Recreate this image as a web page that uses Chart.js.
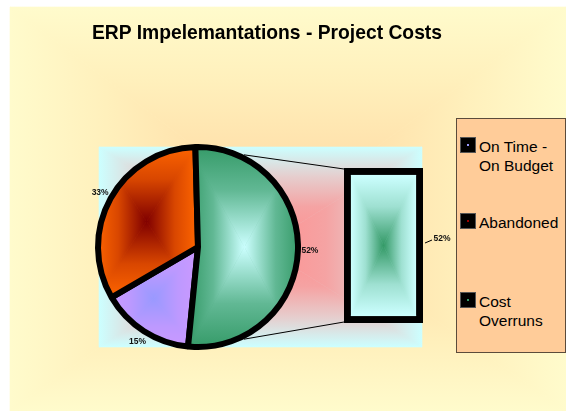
<!DOCTYPE html>
<html><head><meta charset="utf-8">
<script src="https://cdn.jsdelivr.net/npm/chart.js@4.4.1/dist/chart.umd.min.js"></script>
<style>
html,body{margin:0;padding:0;background:#fff;}
#wrap{position:relative;width:566px;height:411px;overflow:hidden;font-family:'Liberation Sans',Arial,sans-serif;}
canvas{position:absolute;left:0;top:0;}
#title{position:absolute;left:0;width:534px;top:23px;text-align:center;font-weight:bold;font-size:19.3px;line-height:19px;color:#000;white-space:nowrap;}
#legend{position:absolute;left:456px;top:118px;width:110px;height:235px;box-sizing:border-box;background:#FFCC99;border:1px solid #5b4b3b;}
.item{position:absolute;left:0;width:108px;}
.key{position:absolute;left:3px;top:0;width:16px;height:16px;background:#000;box-sizing:border-box;border:1px solid #555;}
.dot{position:absolute;left:6px;top:6px;width:2px;height:2px;}
.txt{position:absolute;left:22px;font-size:15.5px;line-height:19px;color:#000;white-space:nowrap;}
</style></head>
<body>
<div id="wrap">
<canvas id="pie" width="566" height="411"></canvas>
<canvas id="bar" width="566" height="411"></canvas>
<div id="title">ERP Impelemantations - Project Costs</div>
<div id="legend"></div>
</div>
<script>
// ---- data ----
const categories = ['On Time - On Budget', 'Abandoned', 'Cost Overruns'];
const pieValues = [15, 33, 52];
const barLabels = ['Cost Overruns'];
const barValues = [52];
const legendLines = [['On Time -', 'On Budget'], ['Abandoned'], ['Cost', 'Overruns']];

// ---- styles ----
const sliceCenterColors = ['#9999FF', '#800000', '#CCFFFF'];
const sliceEdgeColors = ['#CC99FF', '#FF6600', '#339966'];
const legendDotColors = ['#9999FF', '#990000', '#339966'];
const barCenterColor = '#339966', barEdgeColor = '#CCFFFF';
const ROTATION = 185.7;
const PIE_BORDER = 6, BAR_BORDER = 7;
const W = 566, H = 411;
const pieTotal = pieValues.reduce((a, b) => a + b, 0);

function mix(c1, c2, t) {
  const a = [1, 3, 5].map(k => parseInt(c1.substr(k, 2), 16));
  const b = [1, 3, 5].map(k => parseInt(c2.substr(k, 2), 16));
  return 'rgb(' + a.map((v, k) => Math.round(v + (b[k] - v) * t)).join(',') + ')';
}

// stops: array of [offset from edge (0) to centre (1), colour]
function rectGrad(ctx, x0, y0, x1, y1, cx, cy, stops) {
  ctx.save();
  ctx.fillStyle = stops[0][1];
  ctx.fillRect(x0, y0, x1 - x0, y1 - y0);
  const parts = [
    {p: [[x0, y0], [x1, y0]], g: [cx, y0, cx, cy]},
    {p: [[x1, y0], [x1, y1]], g: [x1, cy, cx, cy]},
    {p: [[x1, y1], [x0, y1]], g: [cx, y1, cx, cy]},
    {p: [[x0, y1], [x0, y0]], g: [x0, cy, cx, cy]}
  ];
  for (const part of parts) {
    const g = ctx.createLinearGradient(...part.g);
    stops.forEach(s => g.addColorStop(s[0], s[1]));
    ctx.beginPath();
    ctx.moveTo(part.p[0][0], part.p[0][1]);
    ctx.lineTo(part.p[1][0], part.p[1][1]);
    ctx.lineTo(cx, cy);
    ctx.closePath();
    ctx.fillStyle = g;
    ctx.fill();
    ctx.strokeStyle = g;
    ctx.lineWidth = 0.6;
    ctx.stroke();
  }
  ctx.restore();
}

const patCache = {};
function makePattern(mainCtx, x0, y0, x1, y1, inner, outer) {
  const key = [x0, y0, x1, y1, inner, outer].map(v => typeof v === 'number' ? v.toFixed(1) : v).join('|');
  if (patCache[key]) return patCache[key];
  const off = document.createElement('canvas');
  off.width = W; off.height = H;
  const oc = off.getContext('2d');
  rectGrad(oc, x0, y0, x1, y1, (x0 + x1) / 2, (y0 + y1) / 2,
    [[0, outer], [0.45, mix(outer, inner, 0.3)], [1, inner]]);
  const pat = mainCtx.createPattern(off, 'no-repeat');
  patCache[key] = pat;
  return pat;
}

function sliceFill(c) {
  const chart = c.chart, a = chart.chartArea, i = c.dataIndex;
  if (!a || i === undefined) return sliceEdgeColors[i] || '#000';
  const cx = (a.left + a.right) / 2, cy = (a.top + a.bottom) / 2;
  const r = Math.min(a.right - a.left, a.bottom - a.top) / 2;
  const data = c.dataset.data;
  const total = data.reduce((s, v) => s + v, 0);
  let s = -Math.PI / 2 + ROTATION * Math.PI / 180;
  for (let k = 0; k < i; k++) s += data[k] / total * 2 * Math.PI;
  const e = s + data[i] / total * 2 * Math.PI;
  const pts = [[cx, cy], [cx + r * Math.cos(s), cy + r * Math.sin(s)], [cx + r * Math.cos(e), cy + r * Math.sin(e)]];
  const q = Math.PI / 2;
  for (let k = Math.ceil(s / q); k <= Math.floor(e / q); k++) {
    pts.push([cx + r * Math.cos(k * q), cy + r * Math.sin(k * q)]);
  }
  const xs = pts.map(p => p[0]), ys = pts.map(p => p[1]);
  return makePattern(chart.ctx, Math.min(...xs), Math.min(...ys), Math.max(...xs), Math.max(...ys),
    sliceCenterColors[i], sliceEdgeColors[i]);
}

function barFill(c) {
  const chart = c.chart, a = chart.chartArea;
  if (!a) return barCenterColor;
  return makePattern(chart.ctx, a.left + BAR_BORDER, a.top + BAR_BORDER, a.right - BAR_BORDER, a.bottom - BAR_BORDER,
    barCenterColor, barEdgeColor);
}

const backgroundPlugin = {
  id: 'bgPlugin',
  beforeDraw(chart) {
    const ctx = chart.ctx;
    // chart area background
    rectGrad(ctx, 10, 7, W, H, 285, 215, [[0, '#FFFBCC'], [0.35, '#FFF0BC'], [1, '#FFD59E']]);
    // plot area
    rectGrad(ctx, 99, 147, 422, 347, 262, 247, [[0, '#CCFFFF'], [0.3, '#E6CDCD'], [0.6, '#F5A3A3'], [1, '#FF9090']]);
  }
};

const pieLabelPlugin = {
  id: 'pieLabels',
  afterDatasetsDraw(chart) {
    const ctx = chart.ctx;
    const meta = chart.getDatasetMeta(0);
    const data = chart.data.datasets[0].data;
    const total = data.reduce((s, v) => s + v, 0);
    ctx.save();
    ctx.font = "bold 8.5px 'Liberation Sans', Arial, sans-serif";
    ctx.fillStyle = '#111';
    ctx.textAlign = 'center';
    ctx.textBaseline = 'middle';
    meta.data.forEach((arc, i) => {
      const p = arc.getProps(['x', 'y', 'startAngle', 'endAngle', 'outerRadius'], true);
      const mid = (p.startAngle + p.endAngle) / 2;
      const R = p.outerRadius + 12;
      ctx.fillText(Math.round(data[i] / total * 100) + '%', p.x + R * Math.cos(mid), p.y + R * Math.sin(mid));
    });
    ctx.restore();
  }
};

const pieChart = new Chart(document.getElementById('pie'), {
  type: 'pie',
  data: {
    labels: categories,
    datasets: [{
      data: pieValues,
      backgroundColor: sliceFill,
      borderColor: '#000',
      borderWidth: PIE_BORDER,
      hoverOffset: 0,
      offset: 0
    }]
  },
  options: {
    responsive: false,
    animation: false,
    events: [],
    rotation: ROTATION,
    layout: {padding: {left: 95, top: 144, right: 265, bottom: 61}},
    plugins: {legend: {display: false}, tooltip: {enabled: false}, title: {display: false}}
  },
  plugins: [backgroundPlugin, pieLabelPlugin]
});

const barExtrasPlugin = {
  id: 'barExtras',
  afterDatasetsDraw(chart) {
    const ctx = chart.ctx;
    const bar = chart.getDatasetMeta(0).data[0];
    const b = bar.getProps(['x', 'y', 'base', 'width'], true);
    const left = b.x - b.width / 2, right = b.x + b.width / 2;
    const arc = pieChart.getDatasetMeta(0).data[0].getProps(['x', 'y', 'outerRadius'], true);
    const pr = arc.outerRadius + PIE_BORDER / 2;
    const ang = 63.5 * Math.PI / 180;
    ctx.save();
    ctx.strokeStyle = '#000';
    ctx.lineWidth = 1;
    ctx.beginPath();
    ctx.moveTo(arc.x + pr * Math.cos(-ang), arc.y + pr * Math.sin(-ang));
    ctx.lineTo(left, b.y + 1);
    ctx.moveTo(arc.x + pr * Math.cos(ang), arc.y + pr * Math.sin(ang));
    ctx.lineTo(left, b.base - 1);
    ctx.stroke();
    // value label with leader line
    const midY = (b.y + b.base) / 2;
    ctx.beginPath();
    ctx.moveTo(right + 2, midY - 2.5);
    ctx.lineTo(right + 9, midY - 5.5);
    ctx.stroke();
    ctx.font = "bold 8.5px 'Liberation Sans', Arial, sans-serif";
    ctx.fillStyle = '#111';
    ctx.textAlign = 'center';
    ctx.textBaseline = 'middle';
    ctx.fillText(Math.round(barValues[0] / pieTotal * 100) + '%', right + 19, midY - 6.5);
    ctx.restore();
  }
};

new Chart(document.getElementById('bar'), {
  type: 'bar',
  data: {
    labels: barLabels,
    datasets: [{
      data: barValues,
      backgroundColor: barFill,
      borderColor: '#000',
      borderWidth: BAR_BORDER,
      borderSkipped: false,
      categoryPercentage: 1,
      barPercentage: 1
    }]
  },
  options: {
    responsive: false,
    animation: false,
    events: [],
    layout: {padding: {left: 344, right: 143, top: 168, bottom: 88}},
    scales: {
      x: {display: false},
      y: {display: false, min: 0, max: barValues.reduce((a, b) => a + b, 0)}
    },
    plugins: {legend: {display: false}, tooltip: {enabled: false}}
  },
  plugins: [barExtrasPlugin]
});

// ---- legend ----
const legendTops = [18, 94, 173];
const legendEl = document.getElementById('legend');
categories.forEach((name, i) => {
  const item = document.createElement('div');
  item.className = 'item';
  item.style.top = legendTops[i] + 'px';
  item.setAttribute('aria-label', name);
  const key = document.createElement('div');
  key.className = 'key';
  const dot = document.createElement('div');
  dot.className = 'dot';
  dot.style.background = legendDotColors[i];
  key.appendChild(dot);
  const txt = document.createElement('div');
  txt.className = 'txt';
  txt.style.top = '0px';
  txt.innerHTML = legendLines[i].join('<br>');
  item.appendChild(key);
  item.appendChild(txt);
  legendEl.appendChild(item);
});
</script>
</body></html>
